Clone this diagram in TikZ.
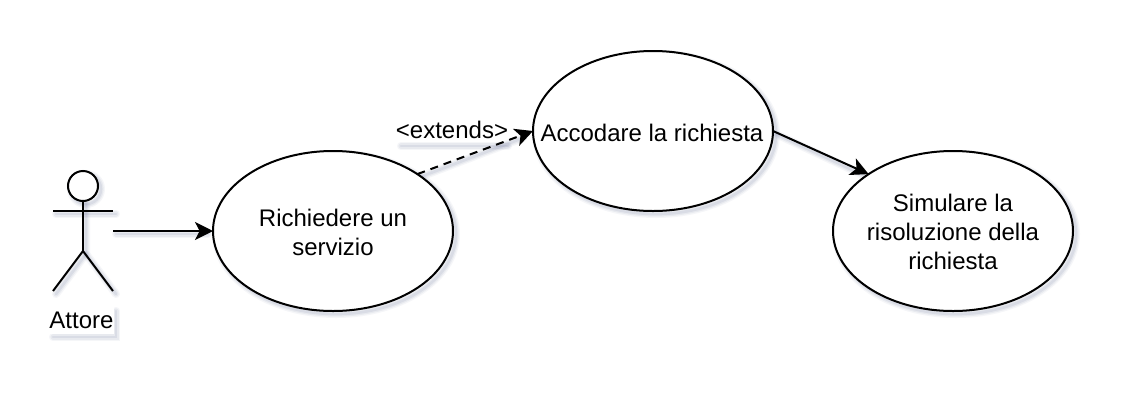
\documentclass[tikz,border=0pt]{standalone}
\usepackage{fontspec}
\setmainfont{Liberation Sans}
\usetikzlibrary{shapes.geometric,arrows.meta}
\definecolor{shade}{RGB}{70,80,130}
\tikzset{
  usecase/.style={ellipse,draw=black,fill=white,line width=1.5pt,minimum width=180pt,minimum height=120pt,inner sep=0pt,outer sep=0pt},
  usetext/.style={align=center,inner sep=0pt,font=\fontsize{18}{21.5}\selectfont},
  link/.style={draw=black,line width=1.5pt,-{Stealth[length=13.5pt,width=13.5pt,inset=3.5pt]}},
  linkdash/.style={link,dash pattern=on 6pt off 4.5pt},
  figure/.style={draw=black,line width=1.5pt},
  label/.style={inner sep=0pt,font=\fontsize{18}{21.5}\selectfont},
  sh1/.style={draw=shade,draw opacity=.05,line width=6pt,line cap=round},
  sh2/.style={draw=shade,draw opacity=.07,line width=4pt,line cap=round},
  sh3/.style={draw=shade,draw opacity=.09,line width=2pt,line cap=round},
}
\newcommand{\softpath}[1]{%
  \begin{scope}[shift={(3,3)}]
    \path[sh1] #1; \path[sh2] #1; \path[sh3] #1;
  \end{scope}}
\begin{document}
\begin{tikzpicture}[x=0.75pt,y=-0.75pt]
\useasboundingbox (0,0) rectangle (1146,404);
\fill[white] (0,0) rectangle (1146,404);
% soft shadows
\softpath{(333,231) ellipse [x radius=120,y radius=80]}
\softpath{(653,131) ellipse [x radius=120,y radius=80]}
\softpath{(953,231) ellipse [x radius=120,y radius=80]}
\softpath{(83,186) circle [radius=15]}
\softpath{(53,211) -- (113,211)}
\softpath{(83,201) -- (83,251) -- (53,291)}
\softpath{(83,251) -- (113,291)}
\softpath{(113,231) -- (205,231)}
\softpath{(417,174) -- (520,135)}
\softpath{(773,131) -- (860,172)}
\softpath{(50,334) -- (113,334) -- (113,308)}
\softpath{(398,143) -- (505,143)}
% actor
\draw[figure,fill=white] (83,186) circle [radius=15];
\draw[figure] (53,211) -- (113,211);
\draw[figure] (83,201) -- (83,251);
\draw[figure] (53,291) -- (83,251) -- (113,291);
\coordinate (actorhand) at (113,231);
\node[label,fill=white,minimum width=47.25pt,minimum height=21pt] (attore) at (81.5,320) {Attore};
% use cases
\node[usecase] (serv) at (333,231) {};
\node[usecase] (coda) at (653,131) {};
\node[usecase] (sim) at (953,231) {};
\node[usetext] (servt) at (333,232.5) {Richiedere un\\servizio};
\node[usetext] (codat) at (652,132.5) {Accodare la richiesta};
\node[usetext] (simt) at (953,232) {Simulare la\\risoluzione della\\richiesta};
% connectors
\draw[link] (actorhand) -- (serv.west);
\draw[linkdash] (serv.34) -- (coda.west);
\draw[link] (coda.east) -- (sim.146.6);
\node[label] (ext) at (452,130) {<extends>};
\end{tikzpicture}
\end{document}
